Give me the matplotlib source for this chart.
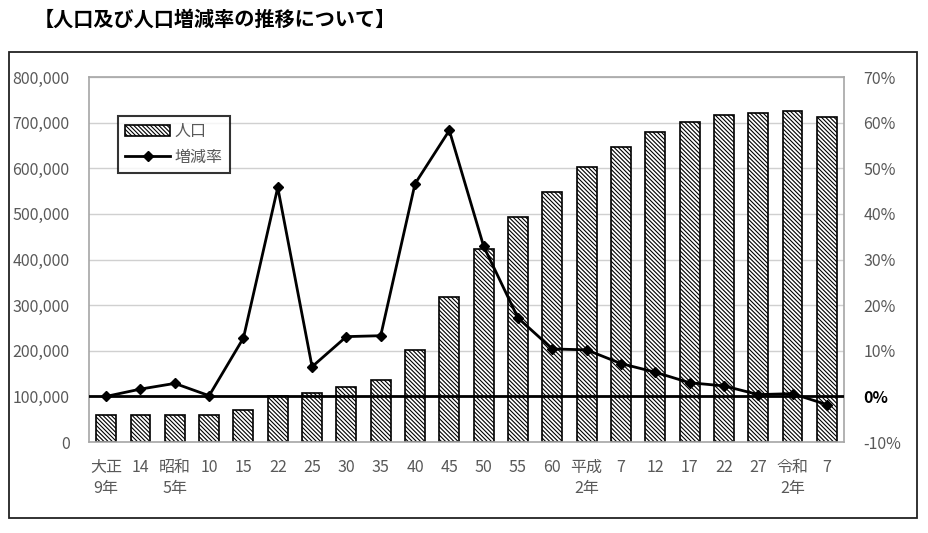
import matplotlib
matplotlib.use("Agg")
from matplotlib import pyplot as plt
from matplotlib.patches import Rectangle
from matplotlib.ticker import FuncFormatter

plt.rcParams['font.family'] = ['Noto Sans CJK JP', 'DejaVu Sans']
plt.rcParams['hatch.linewidth'] = 0.8

years = ['大正\n9年', '14', '昭和\n5年', '10', '15', '22', '25', '30', '35', '40', '45',
         '50', '55', '60', '平成\n2年', '7', '12', '17', '22', '27', '令和\n2年', '7']
population = [58400, 58200, 60000, 60200, 69500, 100500, 107000, 120000, 137000, 201000, 317500,
              423000, 494000, 547000, 603500, 646500, 680000, 700500, 717500, 721500, 725000, 712000]
rate = [0.0, 1.6, 2.85, 0.15, 12.8, 45.8, 6.5, 13.1, 13.3, 46.6, 58.3,
        32.9, 17.2, 10.4, 10.2, 7.2, 5.3, 3.0, 2.3, 0.4, 0.6, -1.8]

gray = '#595959'
fs = 11.5

fig = plt.figure(figsize=(9.29, 5.33), dpi=100)
fig.text(0.036, 0.964, '【人口及び人口増減率の推移について】', fontsize=14.5, fontweight='bold',
         va='center', ha='left')
fig.patches.append(Rectangle((0.0097, 0.028), 0.977, 0.874, transform=fig.transFigure,
                             fill=False, edgecolor='#222222', linewidth=1.3))

ax = fig.add_axes([0.0958, 0.1707, 0.8127, 0.6848])
x = list(range(len(years)))
bars = ax.bar(x, population, width=0.58, color='white', edgecolor='black', linewidth=1.2,
              hatch='\\\\\\\\\\\\\\\\', label='人口', zorder=2)
ax.set_ylim(0, 800000)
ax.set_xlim(-0.5, len(years) - 0.5)
ax.set_yticks(range(0, 800001, 100000))
ax.yaxis.set_major_formatter(FuncFormatter(lambda v, p: '{:,.0f}'.format(v)))
ax.grid(axis='y', color='#d0d0d0', linewidth=1, zorder=0)
ax.set_axisbelow(True)
ax.set_xticks(x)
ax.set_xticklabels(years, linespacing=1.3)
ax.tick_params(length=0, labelsize=fs, colors=gray)
ax.tick_params(axis='y', pad=14)
ax.tick_params(axis='x', pad=12)
for s in ax.spines.values():
    s.set_color('#a6a6a6')
    s.set_linewidth(1.2)

ax2 = ax.twinx()
ax2.set_ylim(-10, 70)
ax2.set_yticks(range(-10, 71, 10))
ax2.yaxis.set_major_formatter(FuncFormatter(lambda v, p: '{:.0f}%'.format(v)))
ax2.tick_params(length=0, labelsize=fs, colors=gray, pad=14)
for t in ax2.get_yticklabels():
    if t.get_text() == '0%':
        t.set_color('black')
        t.set_fontweight('bold')
ax2.axhline(0, color='black', linewidth=2, zorder=3)
line, = ax2.plot(x, rate, color='black', linewidth=2, marker='D', markersize=5,
                 label='増減率', zorder=4)
for s in ax2.spines.values():
    s.set_visible(False)

leg = ax2.legend([bars, line], ['人口', '増減率'], loc='upper left',
                 bbox_to_anchor=(118 / 929, 1 - 116 / 533), bbox_transform=fig.transFigure,
                 fancybox=False, edgecolor='black', fontsize=fs, handlelength=2.8,
                 borderpad=0.45, labelspacing=0.55, handletextpad=0.3, borderaxespad=0)
leg.get_frame().set_linewidth(1.5)
for t in leg.get_texts():
    t.set_color(gray)

fig.savefig('out.png', dpi=100)
